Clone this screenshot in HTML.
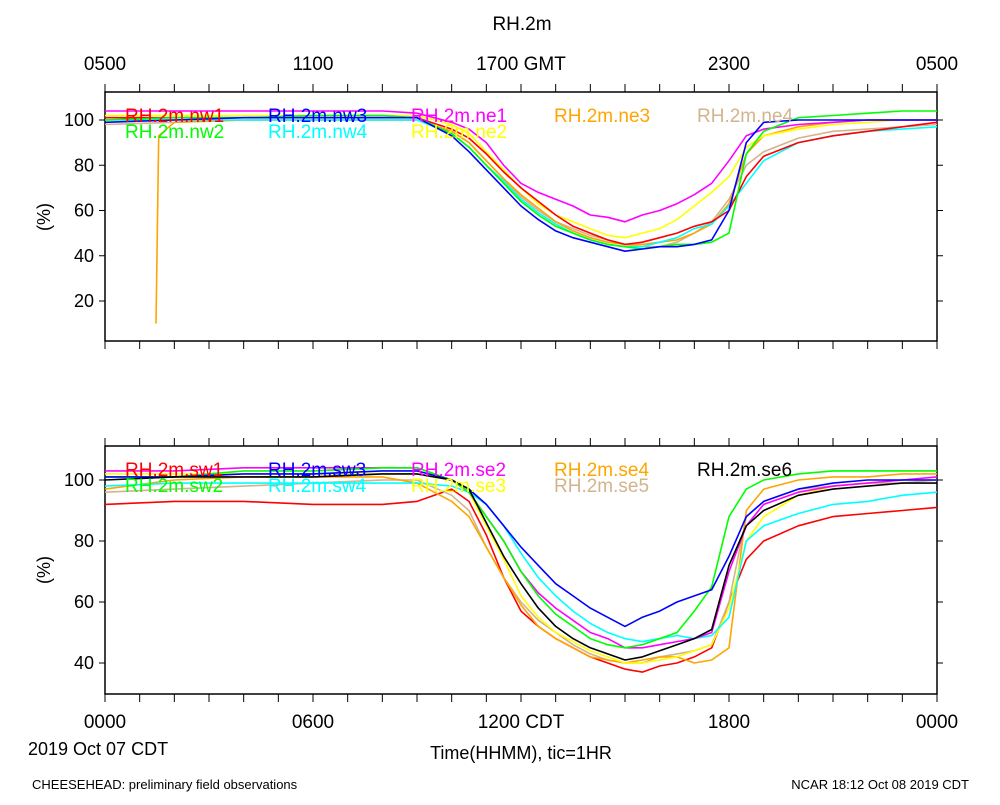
<!DOCTYPE html>
<html><head><meta charset="utf-8"><style>
body{margin:0;background:#fff}
svg text{font-family:"Liberation Sans",sans-serif}
</style></head><body>
<svg id="c" width="1000" height="800" xmlns="http://www.w3.org/2000/svg">
<rect width="1000" height="800" fill="#fff"/>
<text x="522" y="30" font-size="19" text-anchor="middle">RH.2m</text>
<g id="topAx" font-size="19" text-anchor="middle"></g>
<rect x="105" y="92" width="832" height="249" fill="none" stroke="#000" stroke-width="1.5"/>
<rect x="105" y="446" width="832" height="248" fill="none" stroke="#000" stroke-width="1.5"/>
<g id="ticks" stroke="#000" stroke-width="1"></g>
<g id="ylabels" font-size="18" text-anchor="end"></g>
<text transform="translate(50,217) rotate(-90)" font-size="18" text-anchor="middle">(%)</text>
<text transform="translate(50,570) rotate(-90)" font-size="18" text-anchor="middle">(%)</text>
<g id="series"></g>
<g id="legend" font-size="19"></g>
<g id="botAx" font-size="19" text-anchor="middle"></g>
<text x="28" y="755" font-size="18">2019 Oct 07 CDT</text>
<text x="521" y="759" font-size="18" text-anchor="middle">Time(HHMM), tic=1HR</text>
<text x="32" y="789" font-size="13">CHEESEHEAD: preliminary field observations</text>
<text x="969" y="789" font-size="13" text-anchor="end">NCAR 18:12 Oct 08 2019 CDT</text>
</svg>
<script>
const hours=[0,2,4,6,8,9,10,10.5,11,11.5,12,12.5,13,13.5,14,14.5,15,15.5,16,16.5,17,17.5,18,18.5,19,20,21,22,23,24];
const ne3Hours=[1.47,1.55,2,4,6,8,9,10,10.5,11,11.5,12,12.5,13,13.5,14,14.5,15,15.5,16,16.5,17,17.5,18,18.5,19,20,21,22,23,24];
const topTickLabels=["0500","1100","1700 GMT","2300","0500"];
const botTickLabels=["0000","0600","1200 CDT","1800","0000"];
const topYTicks=[20,40,60,80,100];
const botYTicks=[40,60,80,100];
// top panel series
const nw1=[101,101,101,101,101,101,96,92,85,77,70,64,58,53,50,47,45,46,48,50,53,55,60,75,84,90,93,95,97,99];
const nw2=[100,101,101,102,102,101,94,88,80,72,64,58,53,50,47,45,44,43,44,45,45,46,50,85,95,101,102,103,104,104];
const nw3=[99,100,101,101,101,101,93,86,78,70,62,56,51,48,46,44,42,43,44,44,45,47,60,90,99,100,100,100,100,100];
const nw4=[100,100,100,100,100,100,94,88,80,73,65,59,54,50,47,45,44,44,46,48,52,54,62,72,82,90,93,95,96,97];
const ne1=[104,104,104,104,104,103,99,96,90,80,72,68,65,62,58,57,55,58,60,63,67,72,82,93,96,98,99,100,100,100];
const ne2=[102,102,102,102,102,102,98,94,86,78,70,63,58,55,52,49,48,50,52,56,62,68,75,88,93,96,98,99,100,100];
const ne3=[10,93,99,100,100,100,100,95,90,82,74,67,61,55,51,48,46,45,45,46,47,50,54,63,85,93,97,99,100,100,100];
const ne4=[98,99,100,100,100,100,95,90,82,74,66,60,55,52,49,47,45,44,44,46,50,55,65,80,86,92,95,96,97,98];
// bottom panel series
const sw1=[92,93,93,92,92,93,97,93,82,68,57,52,48,45,42,40,38,37,39,40,42,45,60,74,80,85,88,89,90,91];
const sw2=[101,101,103,103,104,104,100,96,88,80,70,62,56,52,48,46,45,46,48,50,57,65,88,97,100,102,103,103,103,103];
const sw3=[101,101,102,102,103,103,100,97,92,85,78,72,66,62,58,55,52,55,57,60,62,64,75,88,93,97,99,100,100,100];
const sw4=[98,99,99,99,99,99,98,96,92,85,76,68,62,57,53,50,48,47,48,49,48,49,55,80,85,89,92,93,95,96];
const se2=[103,103,104,104,104,104,100,96,88,80,70,63,58,54,50,48,45,45,46,47,48,50,70,85,92,96,98,99,100,101];
const se3=[102,102,102,102,102,102,100,96,85,74,62,55,50,47,44,42,40,40,41,42,44,46,58,80,88,95,98,99,100,100];
const se4=[97,100,101,101,101,99,93,88,78,68,59,52,48,45,42,41,40,41,42,42,40,41,45,90,97,100,101,101,102,102];
const se5=[96,97,98,99,100,100,95,90,78,68,60,54,50,46,43,41,40,40,42,43,44,46,60,88,93,97,98,99,99,100];
const se6=[100,101,101,101,102,102,100,97,86,75,66,58,52,48,45,43,41,42,44,46,48,51,72,85,90,95,97,98,99,99];

const NS="http://www.w3.org/2000/svg";
const xS=h=>105+h*832/24;
const yTop=v=>120-(v-100)*181/80;
const yBot=v=>480-(v-100)*183/60;
function mk(tag,attrs,parent){const e=document.createElementNS(NS,tag);for(const k in attrs)e.setAttribute(k,attrs[k]);parent.appendChild(e);return e;}

const ticks=document.getElementById('ticks');
for(let h=0;h<=24;h++){
  const x=xS(h);
  const t1=mk('line',{x1:x,y1:92,x2:x,y2:84},ticks);
  
  
  const t2=mk('line',{x1:x,y1:341,x2:x,y2:349},ticks);
  
  
  const t3=mk('line',{x1:x,y1:446,x2:x,y2:438},ticks);
  
  
  const t4=mk('line',{x1:x,y1:694,x2:x,y2:702},ticks);
  
  
}
const topAx=document.getElementById('topAx'),botAx=document.getElementById('botAx');
topTickLabels.forEach((s,i)=>{const t=mk('text',{x:xS(i*6),y:70},topAx);t.textContent=s;
  
  });
botTickLabels.forEach((s,i)=>{const t=mk('text',{x:xS(i*6),y:728},botAx);t.textContent=s;
  
  });
const yl=document.getElementById('ylabels');
topYTicks.forEach(v=>{const y=yTop(v);
  mk('line',{x1:99,y1:y,x2:105,y2:y},ticks);mk('line',{x1:937,y1:y,x2:943,y2:y},ticks);
  const t=mk('text',{x:94,y:y+6},yl);t.textContent=v;
  
  });
botYTicks.forEach(v=>{const y=yBot(v);
  mk('line',{x1:99,y1:y,x2:105,y2:y},ticks);mk('line',{x1:937,y1:y,x2:943,y2:y},ticks);
  const t=mk('text',{x:94,y:y+6},yl);t.textContent=v;
  
  });

const sg=document.getElementById('series');
function line(hs,vals,ys,color,name){
  const d=vals.map((v,i)=>(i?'L':'M')+xS(hs[i]).toFixed(1)+','+ys(v).toFixed(1)).join('');
  const p=mk('path',{d:d,fill:'none',stroke:color,'stroke-width':1.6,'stroke-linejoin':'round'},sg);
  
  
}
line(hours,ne4,yTop,'#d2b48c','series-ne4');
line(ne3Hours,ne3,yTop,'#ffa500','series-ne3');
line(hours,ne2,yTop,'#ffff00','series-ne2');
line(hours,ne1,yTop,'#ff00ff','series-ne1');
line(hours,nw4,yTop,'#00ffff','series-nw4');
line(hours,nw1,yTop,'#ff0000','series-nw1');
line(hours,nw2,yTop,'#00ff00','series-nw2');
line(hours,nw3,yTop,'#0000ff','series-nw3');
line(hours,sw1,yBot,'#ff0000','series-sw1');
line(hours,se5,yBot,'#d2b48c','series-se5');
line(hours,se4,yBot,'#ffa500','series-se4');
line(hours,se3,yBot,'#ffff00','series-se3');
line(hours,sw4,yBot,'#00ffff','series-sw4');
line(hours,se2,yBot,'#ff00ff','series-se2');
line(hours,sw2,yBot,'#00ff00','series-sw2');
line(hours,sw3,yBot,'#0000ff','series-sw3');
line(hours,se6,yBot,'#000000','series-se6');

const lg=document.getElementById('legend');
function leg(x,y,txt,color){const t=mk('text',{x:x,y:y,fill:color},lg);t.textContent=txt;
  
  }
leg(125,122,'RH.2m.nw1','#ff0000');leg(125,138,'RH.2m.nw2','#00ff00');
leg(268,122,'RH.2m.nw3','#0000ff');leg(268,138,'RH.2m.nw4','#00ffff');
leg(411,122,'RH.2m.ne1','#ff00ff');leg(411,138,'RH.2m.ne2','#ffff00');
leg(554,122,'RH.2m.ne3','#ffa500');leg(697,122,'RH.2m.ne4','#d2b48c');
leg(125,476,'RH.2m.sw1','#ff0000');leg(125,492,'RH.2m.sw2','#00ff00');
leg(268,476,'RH.2m.sw3','#0000ff');leg(268,492,'RH.2m.sw4','#00ffff');
leg(411,476,'RH.2m.se2','#ff00ff');leg(411,492,'RH.2m.se3','#ffff00');
leg(554,476,'RH.2m.se4','#ffa500');leg(554,492,'RH.2m.se5','#d2b48c');
leg(697,476,'RH.2m.se6','#000000');
</script>
</body></html>
